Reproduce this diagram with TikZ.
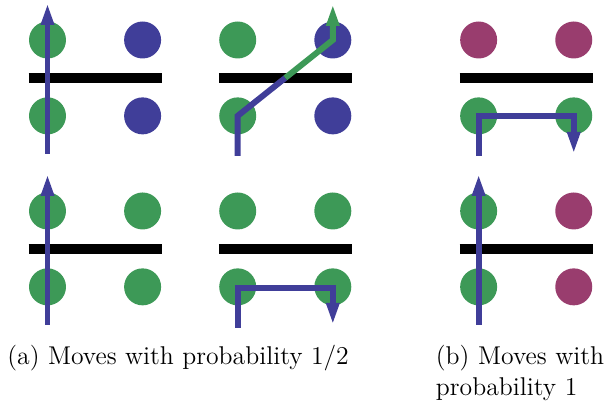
\documentclass[tikz,border=0pt]{standalone}
\usetikzlibrary{arrows.meta, positioning, calc}
\definecolor{colGreen}{RGB}{61,153,87}
\definecolor{colBlue}{RGB}{64,62,153}
\definecolor{colPurple}{RGB}{153,61,110}
\tikzset{
    dot/.style={circle, inner sep=0pt, minimum size=16.55pt},
    bar/.style={draw=black, line width=4.47pt},
    trail/.style={draw=colBlue, line width=2.68pt},
    move/.style={trail, -{Triangle[length=9.8pt, width=5.4pt]}},
    caption/.style={inner sep=0pt, anchor=base west,
        font=\fontsize{11.5}{13.9}\selectfont}
}

\begin{document}
\begin{tikzpicture}[x=0.4474pt, y=-0.4474pt, node distance=17pt and 25.6pt]
    \useasboundingbox (0,0) rectangle (610,407);

    % (a) top left
    \node[dot, fill=colGreen] (p1tl) at (47.5,40) {};
    \node[dot, fill=colBlue, right=of p1tl] (p1tr) {};
    \node[dot, fill=colGreen, below=of p1tl] (p1bl) {};
    \node[dot, fill=colBlue, right=of p1bl] (p1br) {};
    % (a) top right
    \node[dot, fill=colGreen, right=of p1tr] (p2tl) {};
    \node[dot, fill=colBlue, right=of p2tl] (p2tr) {};
    \node[dot, fill=colGreen, below=of p2tl] (p2bl) {};
    \node[dot, fill=colBlue, right=of p2bl] (p2br) {};
    % (b) top
    \node[dot, fill=colPurple, right=48.3pt of p2tr] (p3tl) {};
    \node[dot, fill=colPurple, right=of p3tl] (p3tr) {};
    \node[dot, fill=colGreen, below=of p3tl] (p3bl) {};
    \node[dot, fill=colGreen, right=of p3bl] (p3br) {};
    % (a) bottom left
    \node[dot, fill=colGreen, below=25.6pt of p1bl] (p4tl) {};
    \node[dot, fill=colGreen, right=of p4tl] (p4tr) {};
    \node[dot, fill=colGreen, below=of p4tl] (p4bl) {};
    \node[dot, fill=colGreen, right=of p4bl] (p4br) {};
    % (a) bottom right
    \node[dot, fill=colGreen, right=of p4tr] (p5tl) {};
    \node[dot, fill=colGreen, right=of p5tl] (p5tr) {};
    \node[dot, fill=colGreen, below=of p5tl] (p5bl) {};
    \node[dot, fill=colGreen, right=of p5bl] (p5br) {};
    % (b) bottom
    \node[dot, fill=colGreen, right=48.3pt of p5tr] (p6tl) {};
    \node[dot, fill=colPurple, right=of p6tl] (p6tr) {};
    \node[dot, fill=colGreen, below=of p6tl] (p6bl) {};
    \node[dot, fill=colPurple, right=of p6bl] (p6br) {};

    % walls
    \draw[bar] ($(p1tl.west)!0.5!(p1bl.west)$) -- ($(p1tr.east)!0.5!(p1br.east)$);
    \draw[bar] ($(p2tl.west)!0.5!(p2bl.west)$) -- ($(p2tr.east)!0.5!(p2br.east)$);
    \draw[bar] ($(p3tl.west)!0.5!(p3bl.west)$) -- ($(p3tr.east)!0.5!(p3br.east)$);
    \draw[bar] ($(p4tl.west)!0.5!(p4bl.west)$) -- ($(p4tr.east)!0.5!(p4br.east)$);
    \draw[bar] ($(p5tl.west)!0.5!(p5bl.west)$) -- ($(p5tr.east)!0.5!(p5br.east)$);
    \draw[bar] ($(p6tl.west)!0.5!(p6bl.west)$) -- ($(p6tr.east)!0.5!(p6br.east)$);

    % moves
    \coordinate (s1) at ($(p1bl.center)+(0,38)$);
    \coordinate (t1) at ($(p1tl.center)+(0,-37)$);
    \draw[move] (s1) -- (t1);

    \coordinate (s2) at ($(p2bl.center)+(0,40)$);
    \coordinate (m2) at ($(p2bl.center)!0.5!(p2tr.center)$);
    \coordinate (t2) at ($(p2tr.center)+(0,-36)$);
    \draw[trail] (s2) -- (p2bl.center) -- (m2);
    \draw[move, draw=colGreen] (m2) -- (p2tr.center) -- (t2);

    \coordinate (s3) at ($(p3bl.center)+(0,40)$);
    \coordinate (t3) at ($(p3br.center)+(0,38)$);
    \draw[move] (s3) -- (p3bl.center) -- (p3br.center) -- (t3);

    \coordinate (s4) at ($(p4bl.center)+(0,38)$);
    \coordinate (t4) at ($(p4tl.center)+(0,-37)$);
    \draw[move] (s4) -- (t4);

    \coordinate (s5) at ($(p5bl.center)+(0,41)$);
    \coordinate (c5) at ($(p5bl.center)+(0,1.5)$);
    \coordinate (d5) at ($(p5br.center)+(0,1.5)$);
    \coordinate (t5) at ($(p5br.center)+(0,38)$);
    \draw[move] (s5) -- (c5) -- (d5) -- (t5);

    \coordinate (s6) at ($(p6bl.center)+(0,38)$);
    \coordinate (t6) at ($(p6tl.center)+(0,-37)$);
    \draw[move] (s6) -- (t6);

    % captions
    \node[caption] (capA) at (7,364.5) {(a) Moves with probability 1/2};
    \node[caption, text width=80pt, align=left] (capB) at (435.5,364.5)
        {(b) Moves with\\probability 1};
\end{tikzpicture}
\end{document}
